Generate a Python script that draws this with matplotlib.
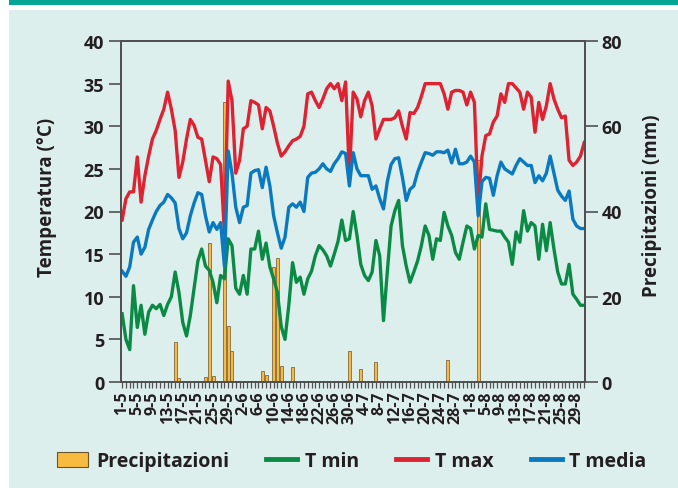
import matplotlib
matplotlib.use("Agg")
import matplotlib.pyplot as plt
from matplotlib.patches import Rectangle, Patch
from matplotlib.lines import Line2D
import numpy as np

# daily values, 1 May -> 31 Aug
tmax = [19, 21.5, 22.3, 22.3, 26.4, 21.1, 24.2, 26.5, 28.5, 29.5,
        30.8, 32, 34, 32, 29.5, 24, 25.8, 28.5, 30.8, 30.1,
        28.7, 28.5, 26, 23.5, 26.4, 26.2, 25.5, 17.5, 35.3, 33,
        24.5, 26, 29.7, 30, 33, 32.8, 32.5, 29.7, 32.2, 31.8,
        30, 28, 26.5, 27, 27.7, 28.3, 28.5, 28.8, 30, 33.8,
        34, 33, 32.2, 33.2, 34.4, 35, 34.4, 35, 33, 35.2,
        24.2, 34, 33.2, 31.1, 33, 34, 32.4, 28.5, 29.7, 30.8,
        30.8, 30.8, 31, 31.8, 30, 28.5, 31.6, 31.5, 32.2, 33.5,
        35, 35, 35, 35, 35, 33.8, 32, 34, 34.2, 34.2,
        34, 32.5, 34, 32.8, 21, 26.5, 28.9, 29.1, 30.5, 31.2,
        33.8, 32.8, 35, 35, 34.5, 34, 32, 34, 33.4, 29.3,
        32.8, 30.8, 32.4, 35, 33.2, 32, 31, 31.2, 26, 25.4,
        25.8, 26.5, 28.1]

tmedia = [13, 12.4, 13.5, 16.4, 17, 15, 15.8, 17.9, 19, 20,
          20.7, 21.1, 22, 21.6, 21, 18, 16.8, 17.5, 19.5, 21,
          22.2, 22, 19.5, 17.6, 18.7, 17.9, 18.7, 13.6, 27.1, 24.5,
          20.5, 18.7, 20.5, 20.7, 24.5, 24.8, 24.9, 22.8, 25.2, 23,
          19.5, 17.5, 15.7, 17, 20.5, 20.9, 20.5, 21.1, 20, 24,
          24.5, 24.6, 25, 25.6, 25, 24.7, 25.6, 26.2, 27, 26.8,
          23, 26.9, 25, 24.2, 24.2, 24.2, 22.6, 23, 21.5, 20.3,
          23.5, 25.5, 26.2, 26.3, 24, 21.3, 22.6, 23, 24.6, 25.8,
          26.9, 26.8, 26.6, 27, 27, 26.9, 27.2, 25.7, 27.3, 25.6,
          25.6, 25.8, 26.5, 25.8, 19.5, 23.5, 24, 23.9, 21.9, 24.2,
          25.8, 25, 24.7, 24.4, 25.4, 26.2, 25.8, 25.4, 25.4, 23.4,
          24.2, 23.6, 24.5, 26.5, 24.5, 22.5, 21.8, 21.3, 22.4, 19.1,
          18.3, 18, 18]

tmin = [8, 5, 3.8, 11.3, 6.4, 9, 5.6, 8.2, 9, 8.6,
        9.1, 7.8, 9.1, 10, 12.9, 10.5, 7, 5.4, 7.8, 11,
        14.2, 15.6, 13.6, 13.1, 11.7, 9.3, 12.5, 12.1, 16.8, 16,
        11, 10.3, 12.5, 10.3, 15.6, 15.6, 17.7, 14.4, 16.3, 13.5,
        12.1, 10.5, 6.5, 5, 9, 14, 11.7, 12.3, 10.3, 12.1,
        13, 14.8, 16, 15.5, 14.8, 13.6, 15, 16.5, 19, 16.6,
        16.8, 20, 17.2, 13.8, 12.5, 11.9, 12.9, 16.6, 14.8, 7.2,
        12.9, 18.3, 20.1, 21.3, 16, 13.6, 11.7, 12.9, 14.2, 16,
        18.3, 17.2, 14.4, 16.8, 16.6, 19.9, 18.3, 17.2, 15.2, 14.4,
        16.4, 18.3, 18, 15.6, 17.2, 17, 20.9, 17.9, 17.8, 17.7,
        17.7, 17, 16.4, 13.8, 17.6, 16.4, 20.1, 17.7, 18.7, 18.3,
        14.4, 18.5, 15.4, 18.7, 15.6, 12.9, 11.5, 11.5, 13.8, 10.3,
        9.7, 9, 9]

precip = [0, 0, 0, 0, 0.3, 0, 0.3, 0, 0, 0.3,
          0, 0.3, 0, 0, 9.3, 0.9, 0.3, 0.3, 0, 0,
          0, 0, 1.1, 32.6, 1.5, 0.3, 0, 65.6, 13.2, 7.2,
          0, 0, 0, 0, 0, 0.3, 0, 2.5, 1.7, 0,
          26.9, 29.2, 3.8, 0.3, 0, 3.6, 0, 0.3, 0.3, 0,
          0, 0, 0.3, 0, 0, 0, 0, 0, 0, 0,
          7.2, 0, 0, 3, 0.3, 0.3, 0, 4.8, 0.3, 0,
          0, 0, 0, 0, 0, 0.3, 0, 0, 0, 0,
          0, 0, 0, 0, 0, 0, 5.1, 0, 0, 0.3,
          0, 0, 0, 0, 52, 0, 0, 0, 0, 0,
          0, 0, 0.3, 0, 0.3, 0, 0, 0, 0, 0,
          0, 0, 0, 0, 0, 0, 0, 0, 0, 0,
          0, 0, 0]

date_labels = ["1-5", "5-5", "9-5", "13-5", "17-5", "21-5", "25-5", "29-5",
               "2-6", "6-6", "10-6", "14-6", "18-6", "22-6", "26-6", "30-6",
               "4-7", "8-7", "12-7", "16-7", "20-7", "24-7", "28-7",
               "1-8", "5-8", "9-8", "13-8", "17-8", "21-8", "25-8", "29-8"]

days = np.arange(len(tmax))

plt.rcParams['font.family'] = ['Open Sans', 'DejaVu Sans']
plt.rcParams['font.weight'] = 'bold'

W, H = 678, 489
fig = plt.figure(figsize=(W / 100, H / 100), dpi=100)
fig.patch.set_facecolor('white')

panel_col = '#ddefec'
fig.patches.append(Rectangle((9 / W, 0), 1, 1 - 11 / H, transform=fig.transFigure,
                             facecolor=panel_col, edgecolor='none', zorder=-2))
fig.patches.append(Rectangle((9 / W, 1 - 6 / H), 1, 6 / H, transform=fig.transFigure,
                             facecolor='#00a693', edgecolor='none', zorder=-2))

ax = fig.add_axes([121 / W, 1 - 383 / H, (585 - 121) / W, (383 - 42) / H])
ax2 = ax.twinx()
ax.set_zorder(ax2.get_zorder() + 1)
ax.patch.set_visible(False)
ax2.patch.set_visible(False)

txt = '#231f20'
spine_col = '#505050'

# precipitation bars (right axis)
ax2.bar(days, precip, width=0.8, color='#f9bb3f', edgecolor='#6a5530', linewidth=0.5)
ax2.set_ylim(0, 80)
ax2.set_yticks([0, 20, 40, 60, 80])
ax2.tick_params(axis='y', direction='out', length=9, width=1.2, color=spine_col,
                labelsize=13, labelcolor=txt, pad=3)

# temperatures (left axis)
ax.plot(days, tmin, color='#0b8a46', lw=2.4, solid_joinstyle='round')
ax.plot(days, tmax, color='#dd2232', lw=2.4, solid_joinstyle='round')
ax.plot(days, tmedia, color='#0a79c0', lw=2.4, solid_joinstyle='round')
ax.set_ylim(0, 40)
ax.set_yticks(np.arange(0, 41, 5))
ax.tick_params(axis='y', direction='out', length=9, width=1.2, color=spine_col,
               labelsize=13, labelcolor=txt, pad=3)

ax.set_xlim(-0.3, 122.2)
ax.set_xticks(np.arange(0, 121, 4))
ax.set_xticklabels(date_labels, rotation=90, fontsize=11.5, color=txt)
ax.set_xticks(days, minor=True)
ax.tick_params(axis='x', which='both', direction='out', length=4, width=0.9,
               color=spine_col, pad=2)

for a in (ax, ax2):
    for s in a.spines.values():
        s.set_color(spine_col)
        s.set_linewidth(1.3)

fig.text(47 / W, 1 - 197 / H, 'Temperatura (°C)', rotation=90, ha='center', va='center',
         fontsize=13.5, color=txt)
fig.text(652 / W, 1 - 206 / H, 'Precipitazioni (mm)', rotation=90, ha='center', va='center',
         fontsize=13.5, color=txt)

handles = [Patch(facecolor='#f9bb3f', edgecolor='#6a5530', linewidth=0.8),
           Line2D([], [], color='#0b8a46', lw=3.5),
           Line2D([], [], color='#dd2232', lw=3.5),
           Line2D([], [], color='#0a79c0', lw=3.5)]
labels = ['Precipitazioni', 'T min', 'T max', 'T media']
fig.legend(handles, labels, loc='center', bbox_to_anchor=(352 / W, 1 - 462 / H), ncol=4,
           frameon=False, fontsize=14, handlelength=1.6, handleheight=0.8,
           handletextpad=0.4, columnspacing=1.9, labelcolor=txt)

fig.savefig('out.png', dpi=100, facecolor='white')
